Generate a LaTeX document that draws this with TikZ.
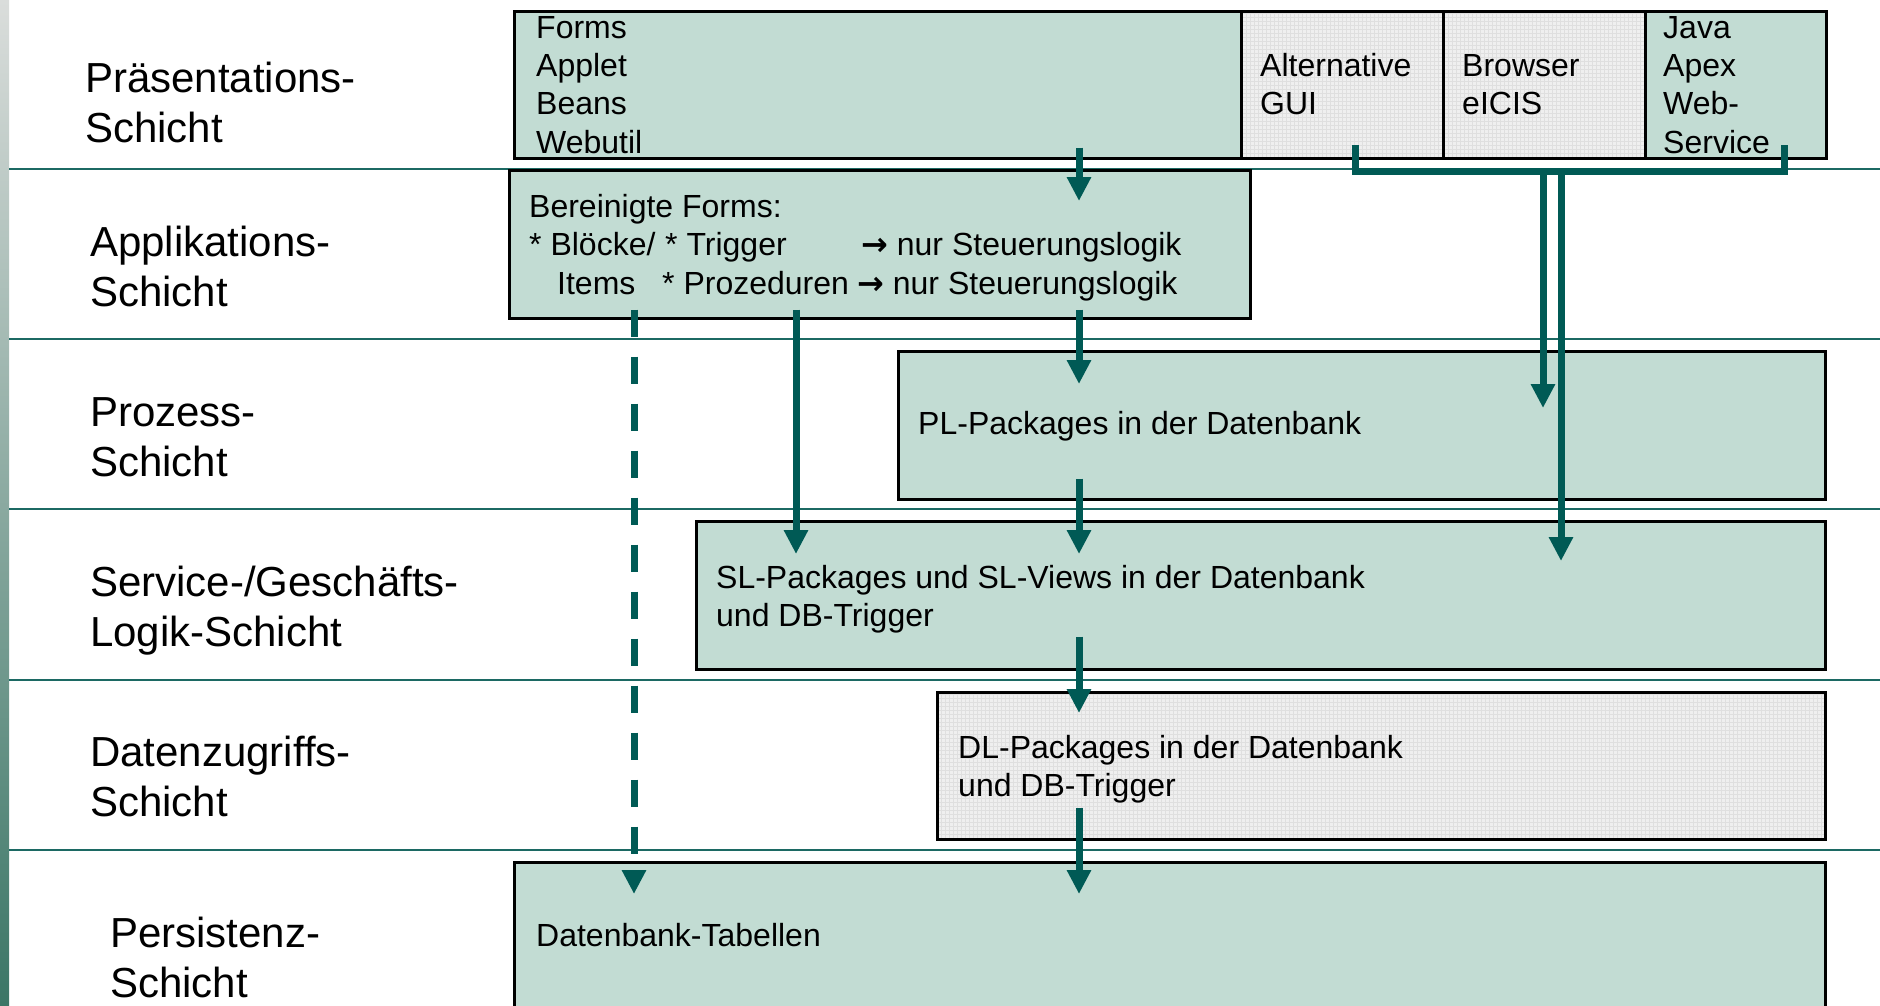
\documentclass[tikz,border=0pt]{standalone}
\usepackage{fontspec}
\setmainfont{Liberation Sans}
\newfontfamily\arrowfont{DejaVu Sans}
\usetikzlibrary{arrows.meta,calc}

\definecolor{boxgreen}{HTML}{C2DCD3}
\definecolor{boxgray}{HTML}{EFEFEF}
\definecolor{gridgray}{HTML}{DFDFDF}
\definecolor{flowteal}{HTML}{005A55}
\definecolor{ruleteal}{HTML}{1C6963}
\definecolor{stripTop}{HTML}{DADDDB}
\definecolor{stripBot}{HTML}{3B7666}

\newcommand\thenarrow{{\arrowfont\bfseries →}}

\tikzset{
  box/.style={rectangle, draw=black, line width=2.6pt, inner sep=0pt, anchor=north west},
  greenbox/.style={box, fill=boxgreen},
  graybox/.style={box, fill=boxgray,
    path picture={\draw[gridgray, line width=0.6pt, step=4pt]
      (path picture bounding box.south west) grid (path picture bounding box.north east);}},
  layertxt/.style={anchor=base west, inner sep=0pt, font=\fontsize{42}{50}\selectfont},
  boxtxt/.style={anchor=base west, inner sep=0pt, font=\fontsize{32}{38}\selectfont},
  layerrule/.style={draw=ruleteal, line width=2.6pt},
  flow/.style={draw=flowteal, line width=7pt, -{Triangle[width=23pt,length=24pt]}},
  flowdash/.style={flow, dash pattern=on 27pt off 20pt},
  bracket/.style={draw=flowteal, line width=7pt, line cap=rect},
}

\begin{document}
\begin{tikzpicture}[x=1pt,y=-1pt]
\useasboundingbox (0,0) rectangle (1880,1005);
\clip (0,0) rectangle (1880,1005);

% left gradient strip
\shade[top color=stripTop, bottom color=stripBot] (0,0) rectangle (9,1005);

% layer separators
\foreach \yy in {169,339,509,680,850}
  \draw[layerrule] (9,\yy) -- (1880,\yy);

% layer names
\node[layertxt] (l1a) at (85,92)  {Präsentations-};
\node[layertxt] (l1b) at (85,142) {Schicht};
\node[layertxt] (l2a) at (90,256) {Applikations-};
\node[layertxt] (l2b) at (90,306) {Schicht};
\node[layertxt] (l3a) at (90,426) {Prozess-};
\node[layertxt] (l3b) at (90,476) {Schicht};
\node[layertxt] (l4a) at (90,596) {Service-/Geschäfts-};
\node[layertxt] (l4b) at (90,646) {Logik-Schicht};
\node[layertxt] (l5a) at (90,766) {Datenzugriffs-};
\node[layertxt] (l5b) at (90,816) {Schicht};
\node[layertxt] (l6a) at (110,947) {Persistenz-};
\node[layertxt] (l6b) at (110,997) {Schicht};

% presentation layer boxes
\node[greenbox, minimum width=727pt, minimum height=147pt] (forms)   at (513,10) {};
\node[graybox,  minimum width=202pt, minimum height=147pt] (altgui)  at (1240,10) {};
\node[graybox,  minimum width=202pt, minimum height=147pt] (browser) at (1442,10) {};
\node[greenbox, minimum width=181pt, minimum height=147pt] (java)    at (1644,10) {};

% application, process, service, data access, persistence
\node[greenbox, minimum width=741pt,  minimum height=148pt] (app) at (508,169) {};
\node[greenbox, minimum width=927pt,  minimum height=148pt] (pl)  at (897,350) {};
\node[greenbox, minimum width=1129pt, minimum height=148pt] (sl)  at (695,520) {};
\node[graybox,  minimum width=888pt,  minimum height=147pt] (dl)  at (936,691) {};
\node[greenbox, minimum width=1311pt, minimum height=160pt] (db)  at (513,861) {};

% box texts
\node[boxtxt] (t1) at (536,38)  {Forms};
\node[boxtxt] (t2) at (536,76)  {Applet};
\node[boxtxt] (t3) at (536,114) {Beans};
\node[boxtxt] (t4) at (536,153) {Webutil};

\node[boxtxt] (a1) at (1260,76)  {Alternative};
\node[boxtxt] (a2) at (1260,114) {GUI};
\node[boxtxt] (b1) at (1462,76)  {Browser};
\node[boxtxt] (b2) at (1462,114) {eICIS};
\node[boxtxt] (j1) at (1663,38)  {Java};
\node[boxtxt] (j2) at (1663,76)  {Apex};
\node[boxtxt] (j3) at (1663,114) {Web-};
\node[boxtxt] (j4) at (1663,153) {Service};

\node[boxtxt] (f1)  at (529,217) {Bereinigte Forms:};
\node[boxtxt] (f2a) at (529,255) {* Blöcke/};
\node[boxtxt] (f2b) at (665,255) {* Trigger};
\node[boxtxt] (f2c) at (861,255) {\thenarrow{} nur Steuerungslogik};
\node[boxtxt] (f3a) at (557,294) {Items};
\node[boxtxt] (f3b) at (662,294) {* Prozeduren};
\node[boxtxt] (f3c) at (857,294) {\thenarrow{} nur Steuerungslogik};

\node[boxtxt] (p1) at (918,434) {PL-Packages in der Datenbank};
\node[boxtxt] (s1) at (716,588) {SL-Packages und SL-Views in der Datenbank};
\node[boxtxt] (s2) at (716,626) {und DB-Trigger};
\node[boxtxt] (d1) at (958,758) {DL-Packages in der Datenbank};
\node[boxtxt] (d2) at (958,796) {und DB-Trigger};
\node[boxtxt] (x1) at (536,946) {Datenbank-Tabellen};

% flow columns
\coordinate (cM) at (1079,0);
\coordinate (cP) at (796,0);
\coordinate (cD) at (634,0);
\coordinate (cB1) at (1543,0);
\coordinate (cB2) at (1561,0);

\draw[flow] ($(forms.south -| cM)+(0,-12)$) -- ($(app.north -| cM)+(0,32)$);
\draw[flow] ($(app.south -| cM)+(0,-10)$) -- ($(pl.north -| cM)+(0,34)$);
\draw[flow] ($(pl.south -| cM)+(0,-22)$) -- ($(sl.north -| cM)+(0,34)$);
\draw[flow] ($(sl.south -| cM)+(0,-34)$) -- ($(dl.north -| cM)+(0,22)$);
\draw[flow] ($(dl.south -| cM)+(0,-33)$) -- ($(db.north -| cM)+(0,33)$);
\draw[flow] ($(app.south -| cP)+(0,-10)$) -- ($(sl.north -| cP)+(0,34)$);
\draw[flowdash] ($(app.south -| cD)+(0,-10)$) -- ($(db.north -| cD)+(0,33)$);

% bracket joining the alternative front ends
\coordinate (gL) at ($(altgui.south west)+(115,-11)$);
\coordinate (gR) at ($(java.south west)+(140,-11)$);
\coordinate (gLb) at ($(gL)+(0,23)$);
\coordinate (gRb) at ($(gR)+(0,23)$);
\draw[bracket] (gL) -- (gLb) -- (gRb) -- (gR);
\draw[flow] (gLb -| cB1) -- ($(pl.north -| cB1)+(0,58)$);
\draw[flow] (gLb -| cB2) -- ($(sl.north -| cB2)+(0,41)$);
\end{tikzpicture}
\end{document}
